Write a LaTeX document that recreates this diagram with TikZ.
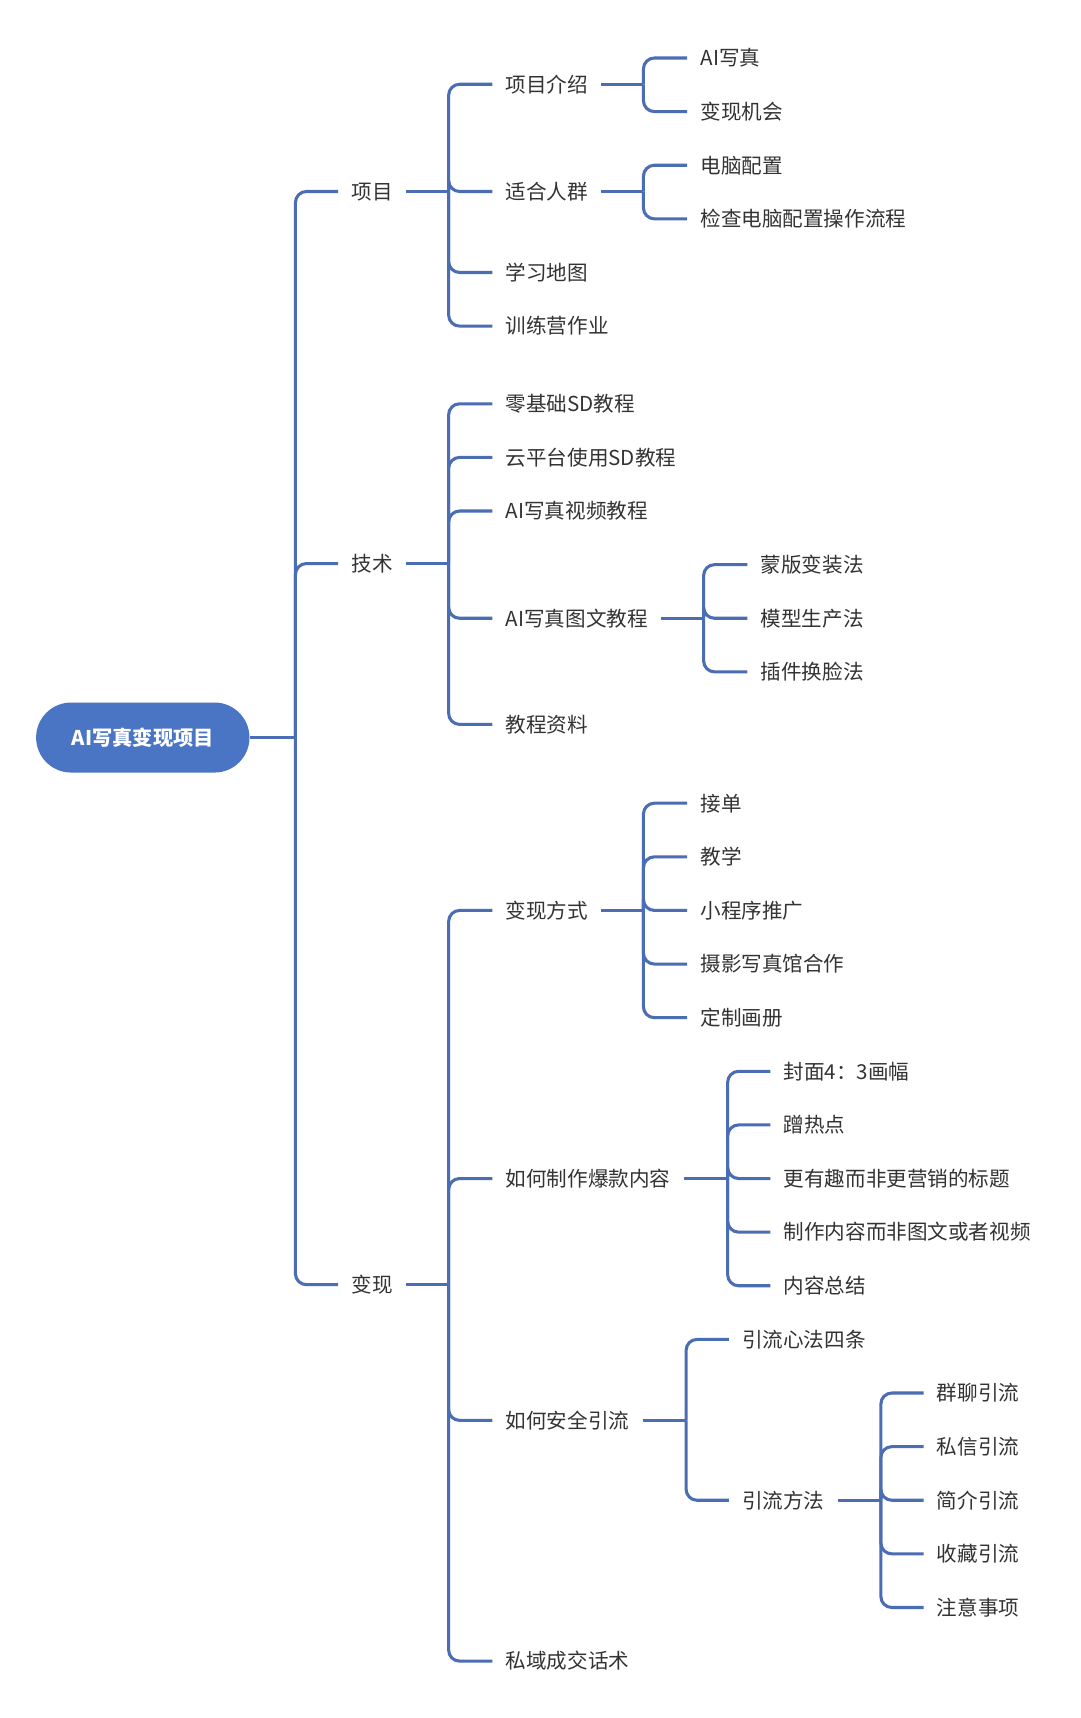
\documentclass[tikz,border=0pt]{standalone}
\usepackage{fontspec}
\setmainfont{Noto Sans CJK SC}
\definecolor{linec}{HTML}{4B6DB3}
\definecolor{rootc}{HTML}{4A74C4}
\definecolor{txtc}{HTML}{333333}
\tikzset{
  lbl/.style={anchor=west, inner xsep=12pt, inner ysep=0pt, text=txtc,
    font=\fontsize{18.8pt}{20pt}\selectfont, text height=16.6pt, text depth=2.3pt},
  conn/.style={draw=linec, line width=2.8pt, rounded corners=10pt},
  rootbox/.style={fill=rootc, text=white, rounded corners=32pt, minimum width=195pt,
    minimum height=64pt, inner sep=0pt, font=\fontsize{18.5pt}{20pt}\selectfont\bfseries}
}
\begin{document}
\begin{tikzpicture}[x=1pt,y=-1pt]
\useasboundingbox (0,0) rectangle (987,1570);
\fill[white] (0,0) rectangle (987,1570);
% root
\node[rootbox] (root) at (130.5,674) {AI写真变现项目};
\coordinate (b0) at (270,674);
% level 1
\node[lbl] (p1) at (309,175) {项目};
\node[lbl] (p2) at (309,515) {技术};
\node[lbl] (p3) at (309,1174) {变现};
\draw[conn] (root.east) -- (b0);
\foreach \n in {p1,p2,p3} \draw[conn] (b0) |- (\n.west);
% level 2 buses
\coordinate (bp1) at (410,175);
\coordinate (bp2) at (410,515);
\coordinate (bp3) at (410,1174);
\draw[conn] (p1.east) -- (bp1);
\draw[conn] (p2.east) -- (bp2);
\draw[conn] (p3.east) -- (bp3);
% 项目 children
\node[lbl] (a1) at (450,77) {项目介绍};
\node[lbl] (a2) at (450,175) {适合人群};
\node[lbl] (a3) at (450,249) {学习地图};
\node[lbl] (a4) at (450,298) {训练营作业};
\foreach \n in {a1,a2,a3,a4} \draw[conn] (bp1) |- (\n.west);
% 技术 children
\node[lbl] (t1) at (450,369) {零基础SD教程};
\node[lbl] (t2) at (450,418) {云平台使用SD教程};
\node[lbl] (t3) at (450,467) {AI写真视频教程};
\node[lbl] (t4) at (450,565) {AI写真图文教程};
\node[lbl] (t5) at (450,662) {教程资料};
\foreach \n in {t1,t2,t3,t4,t5} \draw[conn] (bp2) |- (\n.west);
% 变现 children
\node[lbl] (v1) at (450,832) {变现方式};
\node[lbl] (v2) at (450,1077) {如何制作爆款内容};
\node[lbl] (v3) at (450,1298) {如何安全引流};
\node[lbl] (v4) at (450,1518) {私域成交话术};
\foreach \n in {v1,v2,v3,v4} \draw[conn] (bp3) |- (\n.west);
% 项目介绍
\coordinate (ba1) at (588,77);
\draw[conn] (a1.east) -- (ba1);
\node[lbl] (a11) at (628,53) {AI写真};
\node[lbl] (a12) at (628,102) {变现机会};
\foreach \n in {a11,a12} \draw[conn] (ba1) |- (\n.west);
% 适合人群
\coordinate (ba2) at (588,175);
\draw[conn] (a2.east) -- (ba2);
\node[lbl] (a21) at (628,151) {电脑配置};
\node[lbl] (a22) at (628,200) {检查电脑配置操作流程};
\foreach \n in {a21,a22} \draw[conn] (ba2) |- (\n.west);
% AI写真图文教程
\coordinate (bt4) at (643,565);
\draw[conn] (t4.east) -- (bt4);
\node[lbl] (t41) at (683,516) {蒙版变装法};
\node[lbl] (t42) at (683,565) {模型生产法};
\node[lbl] (t43) at (683,614) {插件换脸法};
\foreach \n in {t41,t42,t43} \draw[conn] (bt4) |- (\n.west);
% 变现方式
\coordinate (bv1) at (588,832);
\draw[conn] (v1.east) -- (bv1);
\node[lbl] (v11) at (628,734) {接单};
\node[lbl] (v12) at (628,783) {教学};
\node[lbl] (v13) at (628,832) {小程序推广};
\node[lbl] (v14) at (628,881) {摄影写真馆合作};
\node[lbl] (v15) at (628,930) {定制画册};
\foreach \n in {v11,v12,v13,v14,v15} \draw[conn] (bv1) |- (\n.west);
% 如何制作爆款内容
\coordinate (bv2) at (665,1077);
\draw[conn] (v2.east) -- (bv2);
\node[lbl] (v21) at (704,979) {封面4：3画幅};
\node[lbl] (v22) at (704,1028) {蹭热点};
\node[lbl] (v23) at (704,1077) {更有趣而非更营销的标题};
\node[lbl] (v24) at (704,1126) {制作内容而非图文或者视频};
\node[lbl] (v25) at (704,1175) {内容总结};
\foreach \n in {v21,v22,v23,v24,v25} \draw[conn] (bv2) |- (\n.west);
% 如何安全引流
\coordinate (bv3) at (627,1298);
\draw[conn] (v3.east) -- (bv3);
\node[lbl] (v31) at (666,1224) {引流心法四条};
\node[lbl] (v32) at (666,1371) {引流方法};
\foreach \n in {v31,v32} \draw[conn] (bv3) |- (\n.west);
% 引流方法
\coordinate (bv32) at (805,1371);
\draw[conn] (v32.east) -- (bv32);
\node[lbl] (w1) at (844,1273) {群聊引流};
\node[lbl] (w2) at (844,1322) {私信引流};
\node[lbl] (w3) at (844,1371) {简介引流};
\node[lbl] (w4) at (844,1420) {收藏引流};
\node[lbl] (w5) at (844,1469) {注意事项};
\foreach \n in {w1,w2,w3,w4,w5} \draw[conn] (bv32) |- (\n.west);
\end{tikzpicture}
\end{document}
